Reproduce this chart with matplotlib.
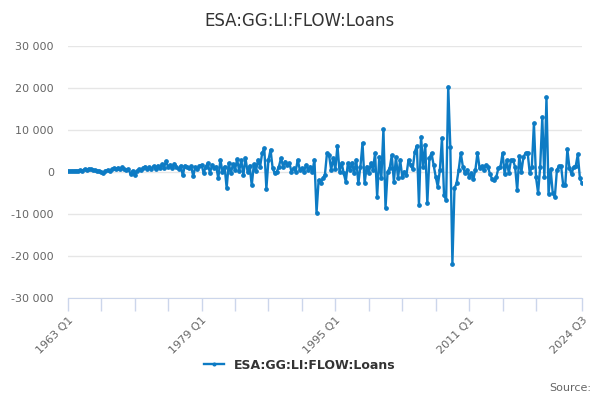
#!/usr/bin/env python3

from matplotlib import pyplot as plt
from matplotlib.ticker import FuncFormatter
import numpy as np

title = "ESA:GG:LI:FLOW:Loans"
series_name = "ESA:GG:LI:FLOW:Loans"

start_year = 1963
# quarterly flows, 1963 Q1 .. 2024 Q3
values = [
    300, 250, 300, 300, 350, 300, 400, 300, 700, 500, 800, 600, 500, 400, 200, 300,
    0, -200, 300, 500, 200, 600, 900, 700, 1000, 800, 1100, 600, 500, 700, -500, 300,
    -800, 200, 700, 400, 1000, 1300, 600, 1100, 800, 1400, 600, 1500, 900, 1800, 1000, 2600,
    1200, 1700, 900, 2000, 1300, 700, 1500, -800, 1500, 1200, 900, 1400, -1000, 1200, 600, 1500,
    1700, -300, 1300, 2100, -300, 1700, 900, 1300, -1500, 2900, 100, 1300, -3800, 2100, -300, 1800,
    500, 3000, 300, 2800, -700, 3300, 100, 1500, -3200, 1800, 200, 2900, 1300, 4500, 5700, -4000,
    2900, 5300, 900, -300, 100, 1300, 3300, 1300, 2500, 1700, 2100, 100, 900, 100, 2900, 500,
    900, 100, 1700, 500, 1300, 100, 2900, -9700, -1900, -2700, -1500, -700, 4500, 4000, 500, 3300,
    600, 6300, 100, 2200, -300, -2300, 2100, 500, 2200, -300, 2900, -2700, 1300, 6900, -2700, 1300,
    -300, 2100, 500, 4500, -5900, 3600, -1500, 10200, -8600, 100, 900, 4000, -2300, 3600, -1500, 2900,
    -1100, 100, -700, 2900, 1700, 700, 4800, 6200, -7900, 8400, 1300, 6500, -7400, 3300, 4500, 1700,
    -1100, -3500, 500, 8000, -5500, -6700, 20300, 6000, -21800, -3800, -2700, 500, 4500, 1300, -300, 500,
    -1100, -300, -1700, 500, 4600, 900, 1400, 500, 1700, 1200, -500, -1700, -1900, -1200, 900, 1300,
    4500, -500, 2800, -300, 2800, 2800, 1200, -4300, 3800, 0, 3600, 4500, 4600, -300, 1300, 11600,
    -1300, -5000, 1300, 13000, -1300, 17800, -5200, 600, -5000, -6000, 500, 1400, 1400, -3100, -3100, 5400,
    900, -500, 1200, 1400, 4200, -1500, -2500,
]

y_ticks = [-30000, -20000, -10000, 0, 10000, 20000, 30000]

quarters = [f"{start_year + i // 4} Q{i % 4 + 1}" for i in range(len(values))]


def space_thousands(v, pos):
    return f"{int(v):,}".replace(",", " ")


def main():
    x = np.arange(len(values))
    blue = "#0d7bc4"

    fig = plt.figure(figsize=(6, 4), dpi=100)
    ax = fig.add_axes([0.113, 0.255, 0.857, 0.63])

    ax.plot(x, values, color=blue, lw=1.7, marker="o", ms=2.4, label=series_name)

    ax.set_ylim(-30000, 30000)
    ax.set_xlim(0, len(values) - 1)
    ax.set_yticks(y_ticks)
    ax.yaxis.set_major_formatter(FuncFormatter(space_thousands))
    ax.grid(axis="y", color="#e6e6e6", lw=1)
    ax.set_axisbelow(True)

    # ticks every 16 quarters, labels every 64, plus the last quarter
    tick_pos = list(range(0, 240, 16)) + [len(values) - 1]
    ax.set_xticks(tick_pos)
    ax.set_xticklabels([quarters[p] if (p % 64 == 0 or p == len(values) - 1) else "" for p in tick_pos],
                       rotation=45, ha="right", rotation_mode="anchor")

    for side in ["top", "right", "left"]:
        ax.spines[side].set_visible(False)
    ax.spines["bottom"].set_color("#ccd6eb")
    ax.tick_params(axis="x", colors="#ccd6eb", length=9, width=1, labelcolor="#666666", labelsize=8, pad=3)
    ax.tick_params(axis="y", length=0, labelcolor="#666666", labelsize=8, pad=10)

    fig.suptitle(title, y=0.97, fontsize=12, color="#333333")

    fig.legend(loc="center", bbox_to_anchor=(0.5, 0.087), frameon=False,
               prop={"weight": "bold", "size": 9}, labelcolor="#333333",
               handlelength=1.6, markerscale=0.8)
    fig.text(0.985, 0.03, "Source:", ha="right", va="center", fontsize=8, color="#666666")

    fig.savefig("out.png")


if __name__ == "__main__":
    main()
